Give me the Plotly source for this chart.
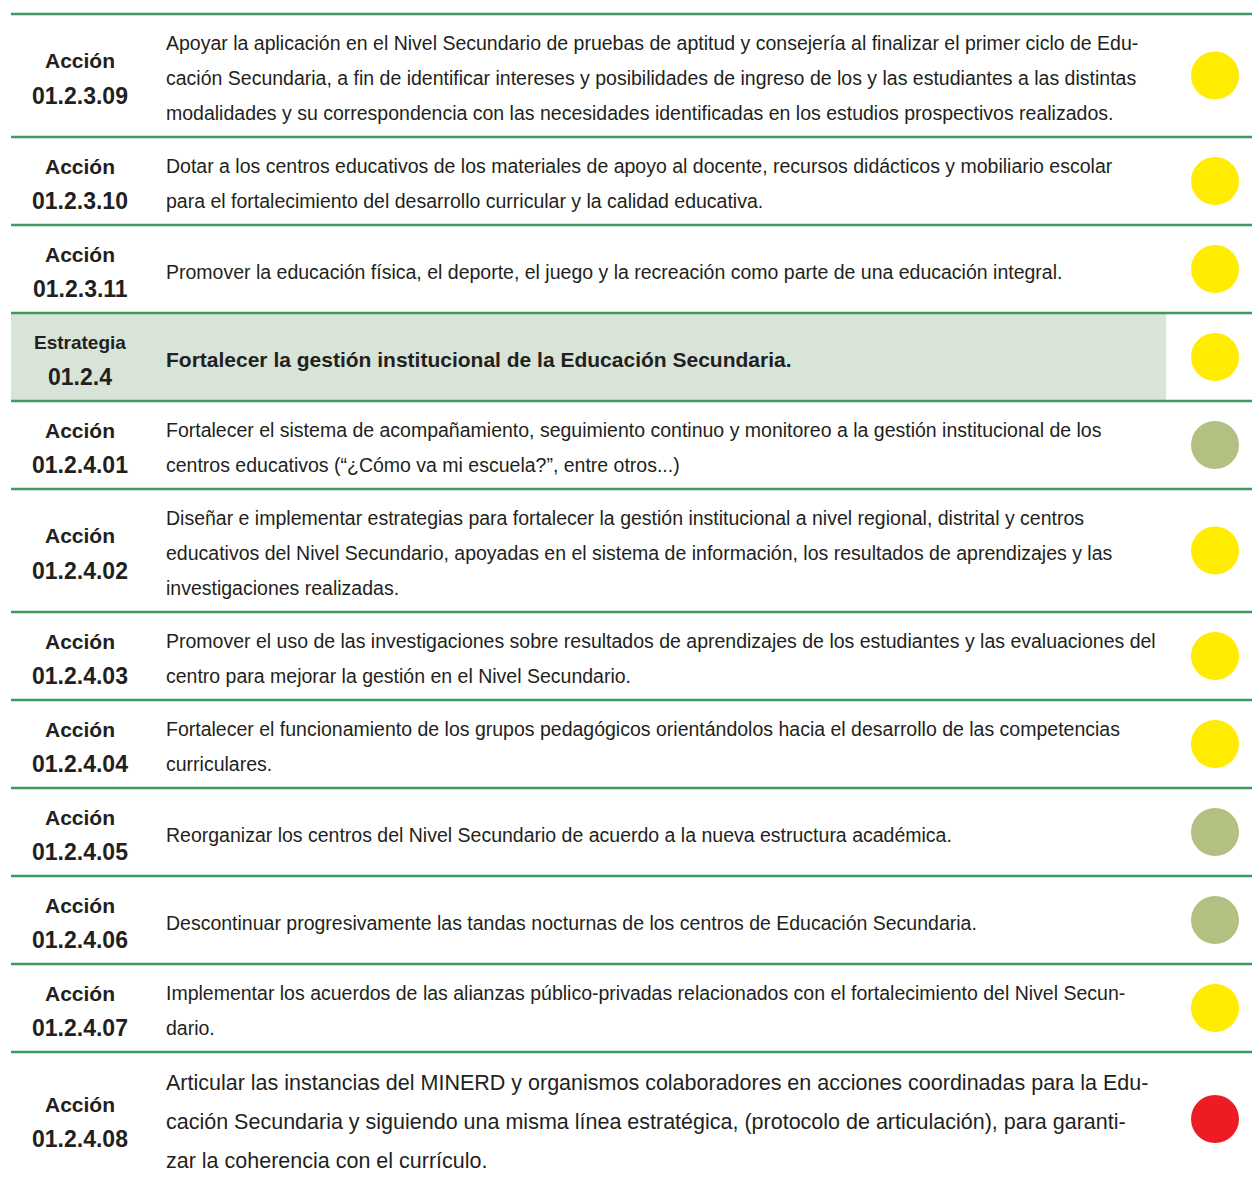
import plotly.graph_objects as go

# ---- data ----
kinds = ["Acción", "Acción", "Acción", "Estrategia", "Acción", "Acción", "Acción",
         "Acción", "Acción", "Acción", "Acción", "Acción"]
codes = ["01.2.3.09", "01.2.3.10", "01.2.3.11", "01.2.4", "01.2.4.01", "01.2.4.02",
         "01.2.4.03", "01.2.4.04", "01.2.4.05", "01.2.4.06", "01.2.4.07", "01.2.4.08"]
descriptions = [
    ["Apoyar la aplicación en el Nivel Secundario de pruebas de aptitud y consejería al finalizar el primer ciclo de Edu-",
     "cación Secundaria, a fin de identificar intereses y posibilidades de ingreso de los y las estudiantes a las distintas",
     "modalidades y su correspondencia con las necesidades identificadas en los estudios prospectivos realizados."],
    ["Dotar a los centros educativos de los materiales de apoyo al docente, recursos didácticos y mobiliario escolar",
     "para el fortalecimiento del desarrollo curricular y la calidad educativa."],
    ["Promover la educación física, el deporte, el juego y la recreación como parte de una educación integral."],
    ["Fortalecer la gestión institucional de la Educación Secundaria."],
    ["Fortalecer el sistema de acompañamiento, seguimiento continuo y monitoreo a la gestión institucional de los",
     "centros educativos (“¿Cómo va mi escuela?”, entre otros...)"],
    ["Diseñar e implementar estrategias para fortalecer la gestión institucional a nivel regional, distrital y centros",
     "educativos del Nivel Secundario, apoyadas en el sistema de información, los resultados de aprendizajes y las",
     "investigaciones realizadas."],
    ["Promover el uso de las investigaciones sobre resultados de aprendizajes de los estudiantes y las evaluaciones del",
     "centro para mejorar la gestión en el Nivel Secundario."],
    ["Fortalecer el funcionamiento de los grupos pedagógicos orientándolos hacia el desarrollo de las competencias",
     "curriculares."],
    ["Reorganizar los centros del Nivel Secundario de acuerdo a la nueva estructura académica."],
    ["Descontinuar progresivamente las tandas nocturnas de los centros de Educación Secundaria."],
    ["Implementar los acuerdos de las alianzas público-privadas relacionados con el fortalecimiento del Nivel Secun-",
     "dario."],
    ["Articular las instancias del MINERD y organismos colaboradores en acciones coordinadas para la Edu-",
     "cación Secundaria y siguiendo una misma línea estratégica, (protocolo de articulación), para garanti-",
     "zar la coherencia con el currículo."],
]
status = ["yellow", "yellow", "yellow", "yellow", "olive", "yellow", "yellow",
          "yellow", "olive", "olive", "yellow", "red"]

# ---- layout / style ----
W, H = 1252, 1177
row_heights = [123, 88, 88, 88, 88, 123, 88, 88, 88, 88, 88, 125]
top = 14
status_colors = {"yellow": "#ffec00", "olive": "#b2c181", "red": "#ed1c24"}
green = "#3f9a5c"
txt = "#231f20"
FONT = "Liberation Sans, Arial, sans-serif"

bounds = [top]
for h in row_heights:
    bounds.append(bounds[-1] + h)
centers = [(bounds[i] + bounds[i + 1]) / 2 for i in range(len(row_heights))]
centers[-1] = 1119

fig = go.Figure()
shapes = []
annotations = []

for i, kind in enumerate(kinds):
    if kind == "Estrategia":
        shapes.append(dict(type="rect", xref="x", yref="y", x0=11, x1=1166,
                           y0=bounds[i], y1=bounds[i + 1], fillcolor="#d9e4d8",
                           line=dict(width=0), layer="below"))

for b in bounds[:-1]:
    shapes.append(dict(type="line", xref="x", yref="y", x0=11, x1=1252, y0=b, y1=b,
                       line=dict(color=green, width=2.5)))

for i, kind in enumerate(kinds):
    last = i == len(kinds) - 1
    strat = kind == "Estrategia"
    c = centers[i]
    annotations.append(dict(x=80, y=c - 15, xref="x", yref="y", text="<b>%s</b>" % kind,
                            showarrow=False, xanchor="center", yanchor="middle",
                            font=dict(family=FONT, size=19 if strat else 21, color=txt)))
    annotations.append(dict(x=80, y=c + 20, xref="x", yref="y", text="<b>%s</b>" % codes[i],
                            showarrow=False, xanchor="center", yanchor="middle",
                            font=dict(family=FONT, size=23, color=txt)))
    lines = descriptions[i]
    sp = 39 if last else 35
    fs = 21.5 if last else (21 if strat else 19.5)
    n = len(lines)
    for j, ln in enumerate(lines):
        y = c + 2.5 + (j - (n - 1) / 2) * sp
        t = "<b>%s</b>" % ln if strat else ln
        annotations.append(dict(x=164, y=y, xref="x", yref="y", text=t, showarrow=False,
                                xanchor="left", yanchor="middle",
                                font=dict(family=FONT, size=fs, color=txt)))

fig.add_trace(go.Scatter(
    x=[1215] * len(status), y=centers, mode="markers",
    marker=dict(size=48, color=[status_colors[s] for s in status], line=dict(width=0)),
    hoverinfo="skip", showlegend=False))

fig.update_layout(
    width=W, height=H, margin=dict(l=0, r=0, t=0, b=0),
    paper_bgcolor="white", plot_bgcolor="white",
    xaxis=dict(range=[0, W], visible=False, fixedrange=True),
    yaxis=dict(range=[H, 0], visible=False, fixedrange=True),
    shapes=shapes, annotations=annotations, showlegend=False)

fig.write_html("out.html", config={"displayModeBar": False},
               post_script="document.body.style.margin='0';document.body.style.overflow='hidden';")
